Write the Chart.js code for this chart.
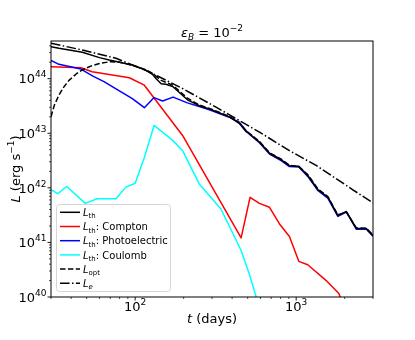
<!DOCTYPE html>
<html>
<head>
<meta charset="utf-8">
<script src="https://cdn.jsdelivr.net/npm/chart.js@4"></script>
<style>
  html, body { margin: 0; padding: 0; background: #fff; }
</style>
</head>
<body>
<canvas id="grafico" width="415" height="340"></canvas>
<script>
// valores (dias, erg/s)
const diasTh = [30, 33.6, 47, 60, 69, 96, 116, 128, 135, 145, 155, 171, 211, 250, 289, 384, 443, 488, 512, 591, 683, 807, 908, 1038, 1180, 1362, 1572, 1815, 2049, 2362, 2727, 3000];
const lumTh = [3.85e44, 3.6e44, 3.04e44, 2.43e44, 2.19e44, 1.78e44, 1.44e44, 1.2e44, 1.0e44, 8.1e43, 7.9e43, 7.2e43, 4.1e43, 3.2e43, 2.8e43, 2.0e43, 1.52e43, 1.07e43, 9.8e42, 6.9e42, 4.3e42, 3.27e42, 2.55e42, 2.48e42, 1.68e42, 9.3e41, 6.8e41, 3.1e41, 3.7e41, 1.8e41, 1.8e41, 1.33e41];

const diasCompton = [30, 46, 54, 92, 114, 197, 455, 517, 591, 683, 788, 908, 1038, 1180, 1537, 1842, 2100];
const lumCompton = [1.66e44, 1.59e44, 1.34e44, 1.04e44, 7.6e43, 9.1e42, 1.21e41, 6.7e41, 5.2e41, 4.4e41, 2.18e41, 1.28e41, 4.5e40, 3.9e40, 2.0e40, 1.16e40, 4e39];

const diasPhoto = [30, 33.6, 46, 55, 64, 76, 96, 114, 131, 148, 172, 211, 250, 289, 384, 443, 488, 512, 591, 683, 807, 908, 1038, 1180, 1362, 1572, 1815, 2049, 2362, 2727, 3000];
const lumPhoto = [2.15e44, 1.83e44, 1.5e44, 1.1e44, 8.8e43, 6.5e43, 4.3e43, 2.94e43, 4.5e43, 3.9e43, 4.6e43, 3.6e43, 3.1e43, 2.7e43, 1.97e43, 1.6e43, 1.12e43, 9.6e42, 6.7e42, 4.15e42, 3.15e42, 2.45e42, 2.4e42, 1.62e42, 9.0e41, 6.5e41, 3.0e41, 3.6e41, 1.75e41, 1.75e41, 1.3e41];

const diasCoulomb = [30, 33, 37.6, 49, 58, 76, 87.5, 100, 114, 131, 171, 197, 250, 341, 455, 512, 600];
const lumCoulomb = [9.3e41, 7.8e41, 1.06e42, 5.2e41, 6.3e41, 6.3e41, 1.03e42, 1.21e42, 3.6e42, 1.39e43, 7.4e42, 4.8e42, 1.18e42, 4.1e41, 7.1e40, 2.6e40, 5.5e39];

const diasOpt = [30, 31.5, 33.6, 36, 38.8, 43, 47, 53, 60, 70, 80, 96, 116, 128, 135, 145, 155, 171, 211, 250, 289, 384, 443, 488, 512, 591, 683, 807, 908, 1038, 1180, 1362, 1572, 1815, 2049, 2362, 2727, 3000];
const lumOpt = [2.0e43, 3.3e43, 5.0e43, 7.0e43, 9.3e43, 1.22e44, 1.45e44, 1.7e44, 1.9e44, 2.05e44, 2.0e44, 1.76e44, 1.46e44, 1.25e44, 1.1e44, 9.3e43, 8.6e43, 7.6e43, 4.4e43, 3.3e43, 2.85e43, 2.05e43, 1.55e43, 1.1e43, 1.0e43, 7.1e42, 4.4e42, 3.35e42, 2.6e42, 2.45e42, 1.75e42, 9.6e41, 6.9e41, 3.2e41, 3.6e41, 1.85e41, 1.82e41, 1.36e41];

const diasE = [30, 47, 76, 122, 197, 318, 591, 908, 1331, 2249, 3000];
const lumE = [4.45e44, 3.35e44, 2.36e44, 1.34e44, 6.6e43, 3.0e43, 1.05e43, 4.8e42, 2.57e42, 9.2e41, 5.3e41];

const ticksX = [100, 1000];
const ticksY = [1e40, 1e41, 1e42, 1e43, 1e44];
const expX = ['2', '3'];
const expY = ['40', '41', '42', '43', '44'];

const pontos = (dias, lum) => dias.map((d, i) => ({ x: d, y: lum[i] }));

const FONTE = '"DejaVu Sans", sans-serif';
const fonte = p => `${p.i ? 'italic ' : ''}${p.s}px ${FONTE}`;

function escreve(ctx, partes, x, y, alinha) {
  let largura = 0;
  partes.forEach(p => { ctx.font = fonte(p); largura += ctx.measureText(p.t).width; });
  let cx = alinha === 'center' ? x - largura / 2 : alinha === 'right' ? x - largura : x;
  ctx.textAlign = 'left';
  ctx.textBaseline = 'alphabetic';
  partes.forEach(p => {
    ctx.font = fonte(p);
    ctx.fillText(p.t, cx, y + (p.dy || 0));
    cx += ctx.measureText(p.t).width;
  });
}

const entradasLegenda = [
  { cor: '#000000', tracejado: [], sufixo: ': ', rotulo: '', sub: 'th', subItal: false },
  { cor: '#ff0000', tracejado: [], rotulo: ': Compton', sub: 'th', subItal: false },
  { cor: '#0000ff', tracejado: [], rotulo: ': Photoelectric', sub: 'th', subItal: false },
  { cor: '#00ffff', tracejado: [], rotulo: ': Coulomb', sub: 'th', subItal: false },
  { cor: '#000000', tracejado: [5.5, 2.4], rotulo: '', sub: 'opt', subItal: false },
  { cor: '#000000', tracejado: [9.6, 2.4, 1.5, 2.4], rotulo: '', sub: 'e', subItal: true }
];

const eixosPlugin = {
  id: 'eixos',
  afterDraw(chart) {
    const ctx = chart.ctx;
    const area = chart.chartArea;
    const sx = chart.scales.x;
    const sy = chart.scales.y;
    ctx.save();
    ctx.fillStyle = '#000';
    ctx.strokeStyle = '#000';

    // moldura
    ctx.lineWidth = 1;
    ctx.strokeRect(area.left, area.top, area.right - area.left, area.bottom - area.top);

    // ticks x
    const marca = (x1, y1, x2, y2, w) => {
      ctx.lineWidth = w;
      ctx.beginPath(); ctx.moveTo(x1, y1); ctx.lineTo(x2, y2); ctx.stroke();
    };
    for (let e = 1; e <= 3; e++) {
      for (let m = 1; m <= 9; m++) {
        const v = m * Math.pow(10, e);
        if (v < 30 || v > 3000) continue;
        const px = sx.getPixelForValue(v);
        marca(px, area.bottom, px, area.bottom + (m === 1 ? 3.5 : 2), m === 1 ? 0.9 : 0.7);
      }
    }
    for (let e = 40; e <= 44; e++) {
      for (let m = 1; m <= 9; m++) {
        const v = m * Math.pow(10, e);
        if (v > sy.max) continue;
        const py = sy.getPixelForValue(v);
        marca(area.left, py, area.left - (m === 1 ? 3.5 : 2), py, m === 1 ? 0.9 : 0.7);
      }
    }

    // rotulos dos ticks
    ticksX.forEach((v, i) => {
      escreve(ctx, [{ t: '10', s: 13 }, { t: expX[i], s: 9, dy: -6 }], sx.getPixelForValue(v), 310.5, 'center');
    });
    ticksY.forEach((v, i) => {
      escreve(ctx, [{ t: '10', s: 13 }, { t: expY[i], s: 9, dy: -6 }], 46.5, sy.getPixelForValue(v) + 4.8, 'right');
    });

    // titulo e eixos
    const cx = (area.left + area.right) / 2;
    escreve(ctx, [{ t: 'ε', s: 13, i: true }, { t: 'B', s: 9, i: true, dy: 3 }, { t: ' = 10', s: 13 }, { t: '−2', s: 9, dy: -6 }], cx, 36.5, 'center');
    escreve(ctx, [{ t: 't', s: 13, i: true }, { t: ' (days)', s: 13 }], cx, 323, 'center');
    ctx.save();
    ctx.translate(20, (area.top + area.bottom) / 2);
    ctx.rotate(-Math.PI / 2);
    escreve(ctx, [{ t: 'L', s: 13, i: true }, { t: ' (erg s', s: 13 }, { t: '−1', s: 9, dy: -6 }, { t: ')', s: 13 }], 0, 0, 'center');
    ctx.restore();

    // legenda
    const lx = area.left + 5.5, ly = 204.5, lw = 114, lh = 87;
    ctx.beginPath();
    ctx.roundRect(lx, ly, lw, lh, 3);
    ctx.fillStyle = 'rgba(255,255,255,0.8)';
    ctx.fill();
    ctx.strokeStyle = '#d6d6d6';
    ctx.lineWidth = 1;
    ctx.stroke();
    entradasLegenda.forEach((en, i) => {
      const yc = 212.3 + i * 14.2;
      ctx.strokeStyle = en.cor;
      ctx.lineWidth = 1.5;
      ctx.setLineDash(en.tracejado);
      ctx.beginPath(); ctx.moveTo(60, yc); ctx.lineTo(80, yc); ctx.stroke();
      ctx.setLineDash([]);
      ctx.fillStyle = '#000';
      const partes = [{ t: 'L', s: 10, i: true }, { t: en.sub, s: 7, i: en.subItal, dy: 2.5 }];
      if (en.rotulo) partes.push({ t: en.rotulo, s: 10 });
      escreve(ctx, partes, 83, yc + 3.6, 'left');
    });
    ctx.restore();
  }
};

const serie = (dados, cor, tracejado) => ({
  data: dados,
  borderColor: cor,
  borderWidth: 1.5,
  borderDash: tracejado || [],
  borderJoinStyle: 'round',
  pointRadius: 0,
  tension: 0,
  fill: false
});

const ctx = document.getElementById('grafico').getContext('2d');
new Chart(ctx, {
  type: 'line',
  data: {
    datasets: [
      serie(pontos(diasTh, lumTh), '#000000'),
      serie(pontos(diasE, lumE), '#000000', [9.6, 2.4, 1.5, 2.4]),
      serie(pontos(diasOpt, lumOpt), '#000000', [5.5, 2.4]),
      serie(pontos(diasCoulomb, lumCoulomb), '#00ffff'),
      serie(pontos(diasPhoto, lumPhoto), '#0000ff'),
      serie(pontos(diasCompton, lumCompton), '#ff0000')
    ]
  },
  options: {
    responsive: false,
    devicePixelRatio: 1,
    animation: false,
    layout: { padding: { left: 51, right: 42, top: 41, bottom: 43 } },
    plugins: { legend: { display: false }, tooltip: { enabled: false } },
    scales: {
      x: { type: 'logarithmic', min: 30, max: 3000, display: false },
      y: { type: 'logarithmic', min: 1e40, max: 4.9e44, display: false }
    }
  },
  plugins: [eixosPlugin]
});
</script>
</body>
</html>
